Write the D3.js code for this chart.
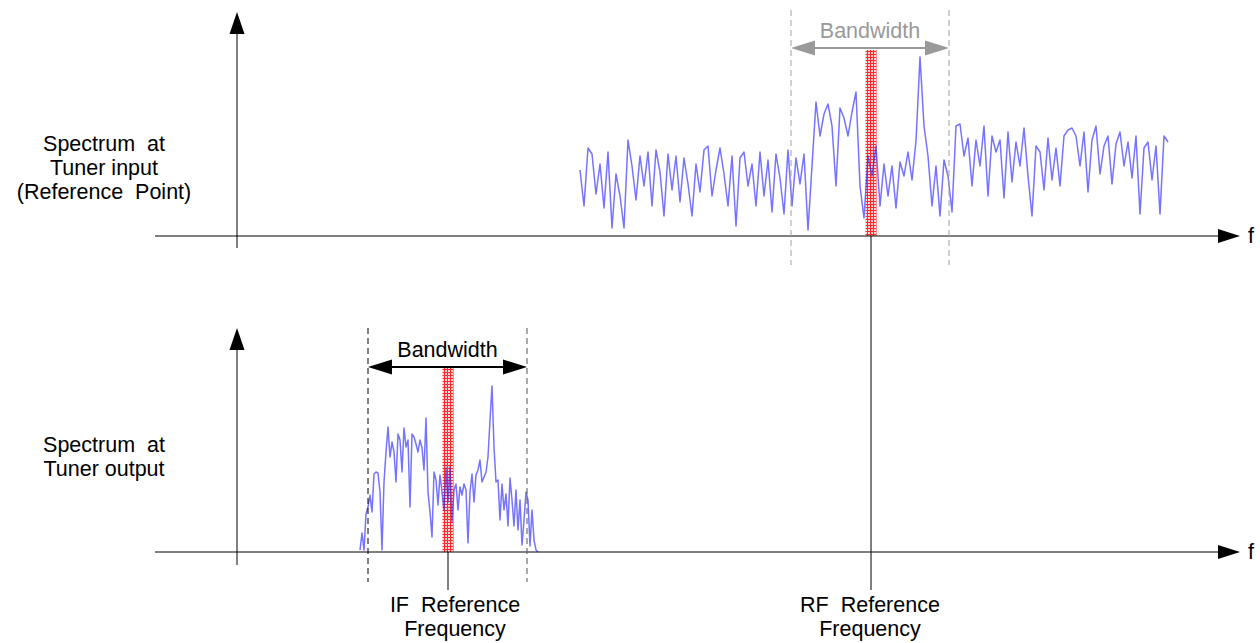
<!DOCTYPE html>
<html>
<head>
<meta charset="utf-8">
<script src="https://cdn.jsdelivr.net/npm/d3@7"></script>
<style>
body{margin:0;background:#fff;}
text{font-family:"Liberation Sans",Arial,sans-serif;}
</style>
</head>
<body>
<svg id="svg" width="1260" height="643"></svg>
<script>
// spectrum at tuner input (RF), level above floor, sampled every 4 freq units from 580
var rfStart = 580, rfStep = 4;
var rfLevels = [66,30,88,82,42,72,28,84,8,62,40,8,96,70,36,80,50,84,30,86,
  64,20,82,46,80,34,78,52,20,72,44,86,90,40,66,88,62,30,80,10,
  78,84,50,72,30,84,40,76,24,82,58,22,86,30,78,52,82,6,70,134,
  100,122,132,110,50,128,118,100,124,144,50,18,80,60,90,30,72,40,70,28,
  74,60,84,56,95,179,110,80,30,70,20,76,60,24,110,112,80,98,50,96,
  70,110,40,100,84,96,38,104,54,94,70,108,60,20,90,84,46,98,56,88,
  50,100,106,108,100,70,104,44,96,110,62,90,100,52,92,104,70,94,58,100,
  22,88,94,56,90,22,100,94];

// spectrum at tuner output (IF), sampled every 2 freq units from 360
var ifStart = 360, ifStep = 2;
var ifLevels = [2,19,2,38,45,57,40,78,80,79,60,2,70,100,125,95,110,100,70,118,
  112,80,124,105,112,45,118,115,108,100,112,104,82,134,60,40,15,80,72,47,
  77,60,42,84,50,85,30,62,68,42,65,57,68,62,9,60,78,50,77,82,
  92,70,75,80,95,132,166,105,70,72,32,68,42,58,26,74,52,26,62,22,
  52,7,32,60,52,6,42,12,2,0];

// markers
var rfRef = 871, ifRef = 448;
var rfBand = [791, 949], ifBand = [368, 527];
var refWidth = 11;
var fontSize = 21.5;

var svg = d3.select("#svg");
var x = d3.scaleLinear().domain([155, 1240]).range([155, 1240]);
var panels = [
  {base:236, top:12, bottom:248},
  {base:552, top:328, bottom:565}
];
var level = function(p){ return d3.scaleLinear().domain([0, 200]).range([p.base, p.base - 200]); };

var defs = svg.append("defs");
var pat = defs.append("pattern").attr("id","hatch").attr("patternUnits","userSpaceOnUse")
  .attr("width",3).attr("height",3);
pat.append("rect").attr("width",3).attr("height",3).attr("fill","#ffd4d4");
pat.append("rect").attr("width",3).attr("height",1).attr("fill","#ff2a2a");
pat.append("rect").attr("width",1).attr("height",3).attr("fill","#ff2a2a");

// Red reference bars
var rfY = level(panels[0]), ifY = level(panels[1]);
svg.append("rect").attr("x",x(rfRef) - refWidth/2).attr("y",50)
  .attr("width",refWidth).attr("height",panels[0].base - 50).attr("fill","url(#hatch)");
svg.append("rect").attr("x",x(ifRef) - refWidth/2).attr("y",367)
  .attr("width",refWidth).attr("height",panels[1].base - 367).attr("fill","url(#hatch)");

// Spectra
function drawSpectrum(levels, start, step, yScale){
  var line = d3.line()
    .x(function(d,i){return x(start + i*step);})
    .y(function(d){return yScale(d);});
  svg.append("path").datum(levels)
    .attr("d", line)
    .attr("fill","none")
    .attr("stroke","#2a2aff")
    .attr("stroke-opacity",0.65)
    .attr("stroke-width",1.5)
    .attr("stroke-linejoin","round");
}
drawSpectrum(rfLevels, rfStart, rfStep, rfY);
drawSpectrum(ifLevels, ifStart, ifStep, ifY);

// Axes
panels.forEach(function(p){
  svg.append("line").attr("x1",155).attr("x2",1218).attr("y1",p.base).attr("y2",p.base)
    .attr("stroke","#000").attr("stroke-width",1);
  svg.append("path").attr("d","M1218,"+(p.base-7)+"L1240,"+p.base+"L1218,"+(p.base+7)+"Z").attr("fill","#000");
  svg.append("text").attr("x",1248).attr("y",p.base+7).attr("font-size",fontSize).text("f");
  svg.append("line").attr("x1",237).attr("x2",237).attr("y1",p.bottom).attr("y2",p.top+20)
    .attr("stroke","#000").attr("stroke-width",1);
  svg.append("path").attr("d","M229.5,"+(p.top+22)+"L237,"+p.top+"L244.5,"+(p.top+22)+"Z").attr("fill","#000");
});

// Bandwidth dashed lines
svg.selectAll("line.rfband").data(rfBand).enter().append("line")
  .attr("class","rfband")
  .attr("x1",function(d){return x(d);}).attr("x2",function(d){return x(d);})
  .attr("y1",10).attr("y2",265)
  .attr("stroke","#a0a0a0").attr("stroke-dasharray","6,4");
svg.selectAll("line.ifband").data(ifBand).enter().append("line")
  .attr("class","ifband")
  .attr("x1",function(d){return x(d);}).attr("x2",function(d){return x(d);})
  .attr("y1",328).attr("y2",582)
  .attr("stroke",function(d,i){return i==0 ? "#000" : "#555";}).attr("stroke-dasharray","6,4");

// Bandwidth arrows
function bandArrow(band, y, color){
  var a = x(band[0]), b = x(band[1]);
  svg.append("line").attr("x1",a+20).attr("x2",b-20).attr("y1",y).attr("y2",y)
    .attr("stroke",color).attr("stroke-width",2);
  svg.append("path").attr("d","M"+a+","+y+"L"+(a+24)+","+(y-7.5)+"L"+(a+24)+","+(y+7.5)+"Z").attr("fill",color);
  svg.append("path").attr("d","M"+b+","+y+"L"+(b-24)+","+(y-7.5)+"L"+(b-24)+","+(y+7.5)+"Z").attr("fill",color);
  svg.append("text").attr("x",(a+b)/2).attr("y",y-10).attr("text-anchor","middle")
    .attr("font-size",fontSize).attr("fill",color).text("Bandwidth");
}
bandArrow(rfBand, 48, "#999999");
bandArrow(ifBand, 367, "#000");

// Reference frequency lines
svg.append("line").attr("x1",x(rfRef)).attr("x2",x(rfRef)).attr("y1",panels[0].base).attr("y2",590)
  .attr("stroke","#000");
svg.append("line").attr("x1",x(ifRef)).attr("x2",x(ifRef)).attr("y1",panels[1].base).attr("y2",590)
  .attr("stroke","#000");

// Labels
function label(lines, cx, y0){
  var t = svg.append("text").attr("text-anchor","middle").attr("font-size",fontSize)
    .attr("xml:space","preserve").style("white-space","pre");
  lines.forEach(function(s,i){
    t.append("tspan").attr("x",cx).attr("y",y0 + i*24).text(s);
  });
}
label(["Spectrum  at","Tuner input","(Reference  Point)"], 104, 151);
label(["Spectrum  at","Tuner output"], 104, 452);
label(["IF  Reference","Frequency"], 455, 612);
label(["RF  Reference","Frequency"], 870, 612);
</script>
</body>
</html>
